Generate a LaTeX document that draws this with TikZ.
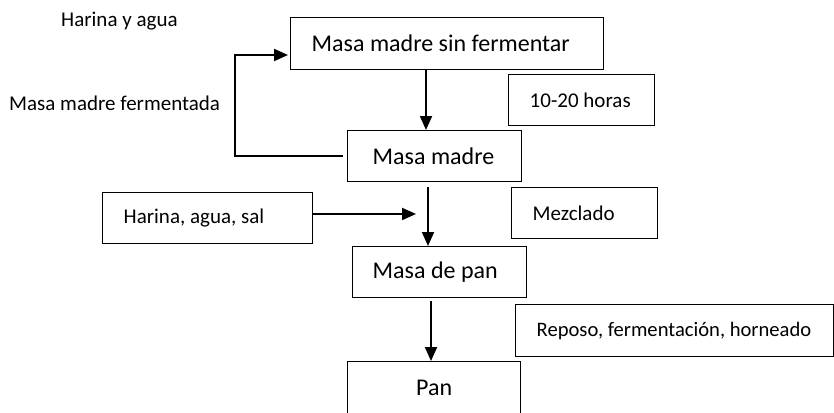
\documentclass[tikz,border=0pt]{standalone}
\usepackage{fontspec}
\setmainfont{Carlito}
\usetikzlibrary{arrows.meta,positioning}

\tikzset{
  box/.style={draw, line width=1.4pt, anchor=north west, minimum height=51pt,
    align=flush left, inner xsep=21pt, inner ysep=0pt, font=\fontsize{24}{28}\selectfont},
  small/.style={font=\fontsize{21}{25}\selectfont},
  arr/.style={line width=2pt, -{Triangle[length=14pt,width=12pt]}},
  note/.style={anchor=base west, inner sep=0pt, small}
}

\begin{document}
\begin{tikzpicture}[x=1pt,y=-1pt]
                \useasboundingbox (0,0) rectangle (834,412);
                \clip (0,0) rectangle (834,412);
                \node[note] (water) at (61,27) {Harina y agua};
                \node[note] (fermented) at (9,110) {Masa madre fermentada};
                \node[box, text width=271, minimum height=52] (raw) at (290,17) {Masa madre sin fermentar};
                \node[box, inner xsep=25pt, text width=124] (starter) at (347,130) {Masa madre};
                \node[box, small, text width=104] (hours) at (508,74) {10-20 horas};
                \node[box, small, text width=168] (flour) at (102,192) {Harina, agua, sal};
                \node[box, small, text width=104] (mixing) at (511,187) {Mezclado};
                \node[box, inner xsep=20pt, text width=134] (dough) at (352,246) {Masa de pan};
                \node[box, font=\fontsize{20.6}{24}\selectfont, text width=276, minimum height=52] (rest) at (515,304) {\mbox{Reposo, fermentación, horneado}};
                \node[box, inner xsep=0pt, text width=173, align=center, minimum height=70] (bread) at (347,361) {\raisebox{17pt}{Pan}};
                \draw[arr] (426,0 |- raw.south) -- (426,0 |- starter.north);
                \draw[arr] ([xshift=-4pt]starter.west) -| (235,55) -- ([xshift=-2pt]raw.west |- 0,55);
                \draw[arr] (flour.east |- 0,214) -- (416,214);
                \draw[arr] (428,187) -- (428,0 |- dough.north);
                \draw[arr] ([yshift=-3pt]431,0 |- dough.south) -- (431,0 |- bread.north);
            \end{tikzpicture}
\end{document}
